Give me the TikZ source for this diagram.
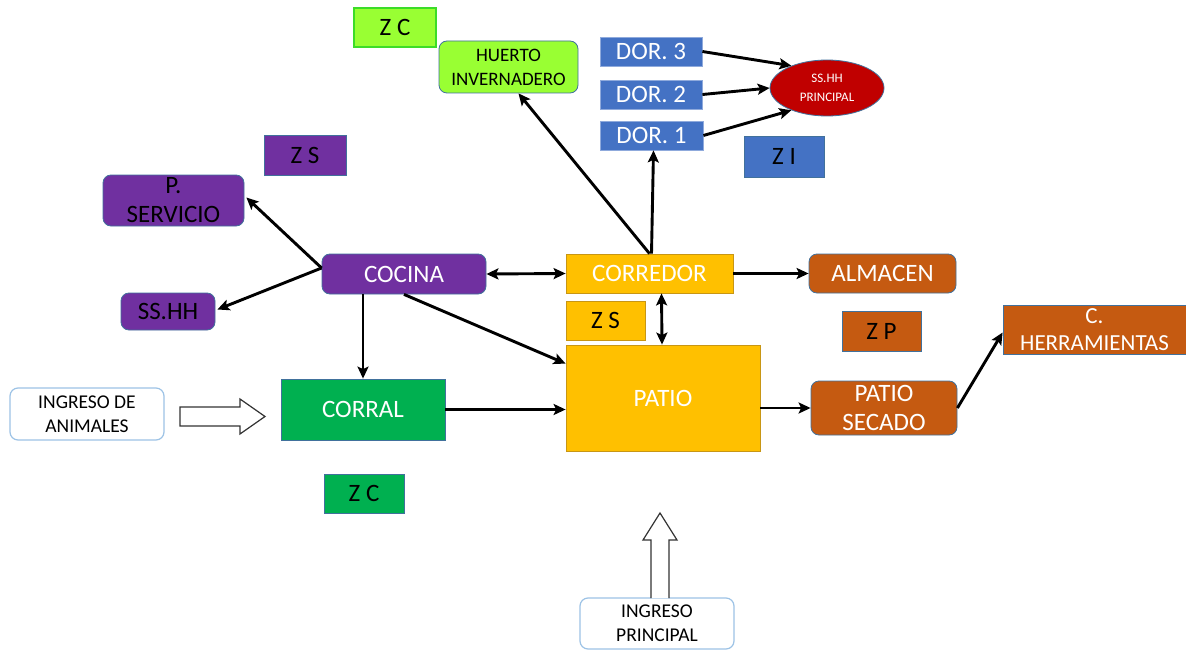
\documentclass[tikz,border=0pt]{standalone}
\usepackage{fontspec}
\setmainfont{Carlito}
\usetikzlibrary{arrows.meta,shapes.geometric,calc}
\definecolor{limeF}{RGB}{153,255,51}
\definecolor{limeB}{RGB}{60,220,40}
\definecolor{blueF}{RGB}{68,114,196}
\definecolor{blueB}{RGB}{143,170,220}
\definecolor{redF}{RGB}{192,0,0}
\definecolor{purpF}{RGB}{112,48,160}
\definecolor{yelF}{RGB}{255,192,0}
\definecolor{yelB}{RGB}{200,150,20}
\definecolor{oraF}{RGB}{197,90,17}
\definecolor{greF}{RGB}{0,176,80}
\definecolor{edgeB}{RGB}{65,113,156}
\definecolor{lightB}{RGB}{157,195,230}
\begin{document}
\begin{tikzpicture}[x=1pt,y=-1pt,
  box/.style={draw=edgeB, line width=0.8pt, inner sep=0pt, align=center},
  rbox/.style={box, rounded corners=8pt},
  fbig/.style={font=\fontsize{25}{29}\selectfont},
  fmid/.style={font=\fontsize{23}{27}\selectfont},
  fsmall/.style={font=\fontsize{19}{24}\selectfont},
  ftiny/.style={font=\fontsize{13}{19}\selectfont},
  conn/.style={line width=2.9pt, -{Stealth[length=12pt,width=11pt,inset=2.5pt]}},
  dconn/.style={line width=2.9pt, {Stealth[length=12pt,width=11pt,inset=2.5pt]}-{Stealth[length=12pt,width=11pt,inset=2.5pt]}},
  blockarrow/.style={draw=black!80, line width=1.2pt, fill=white, line join=miter}
]
\fill[white] (0,0) rectangle (1186,650);
\useasboundingbox (0,0) rectangle (1186,650);

% zone labels
\node[box, fill=limeF, draw=limeB, line width=1.6pt, fbig, minimum width=82pt, minimum height=39pt] (zc1) at (395,27.5) {Z C};
\node[box, fill=purpF, fbig, minimum width=82pt, minimum height=40pt] (zs1) at (305,155) {Z S};
\node[box, fill=blueF, fbig, minimum width=80pt, minimum height=41pt] (zi) at (784,156.5) {Z I};
\node[box, fill=yelF, draw=yelB, fbig, minimum width=79pt, minimum height=39pt] (zs2) at (605.5,320.5) {Z S};
\node[box, fill=oraF, fbig, minimum width=79pt, minimum height=40pt] (zp) at (881.5,331) {Z P};
\node[box, fill=greF, fbig, minimum width=80pt, minimum height=39pt] (zc2) at (364,493.5) {Z C};

% main nodes
\node[rbox, fill=limeF, fsmall, minimum width=139pt, minimum height=52pt] (huerto) at (508.5,67) {HUERTO\\INVERNADERO};
\node[box, fill=blueF, draw=blueB, text=white, fbig, minimum width=102pt, minimum height=29pt] (dor3) at (651,51.5) {DOR. 3};
\node[box, fill=blueF, draw=blueB, text=white, fbig, minimum width=102pt, minimum height=29pt] (dor2) at (651,94.5) {DOR. 2};
\node[box, fill=blueF, draw=blueB, text=white, fbig, minimum width=103pt, minimum height=29pt] (dor1) at (651.5,135.5) {DOR. 1};
\node[ellipse, draw=edgeB, line width=0.8pt, fill=redF, text=white, ftiny, align=center, inner sep=0pt, minimum width=114pt, minimum height=56pt] (sshhp) at (827,88) {SS.HH\\PRINCIPAL};

\node[rbox, fill=purpF, fbig, minimum width=141pt, minimum height=51pt] (pserv) at (173.5,200.5) {P.\\SERVICIO};
\node[rbox, fill=purpF, text=white, fbig, minimum width=164pt, minimum height=40pt] (cocina) at (404,274) {COCINA};
\node[rbox, fill=purpF, fbig, minimum width=94pt, minimum height=37pt] (sshh) at (168,311.5) {SS.HH};

\node[box, fill=yelF, draw=yelB, text=white, fbig, minimum width=167pt, minimum height=39pt] (corredor) at (649.5,273.5) {CORREDOR};
\node[rbox, fill=oraF, text=white, fbig, minimum width=147pt, minimum height=39pt] (almacen) at (882.5,273.5) {ALMACEN};
\node[box, fill=yelF, draw=yelB, text=white, fbig, minimum width=194pt, minimum height=106pt] (patio) at (663,398) {PATIO};
\node[box, fill=oraF, text=white, fmid, minimum width=183pt, minimum height=49pt] (herr) at (1094.5,329.5) {C.\\HERRAMIENTAS};
\node[rbox, fill=oraF, text=white, fbig, minimum width=146pt, minimum height=54pt] (secado) at (884,408) {PATIO\\SECADO};
\node[box, fill=greF, text=white, fbig, minimum width=164pt, minimum height=61pt] (corral) at (363,409.5) {CORRAL};

\node[rbox, draw=lightB, line width=1.2pt, fill=white, font=\fontsize{19.5}{24}\selectfont, minimum width=154pt, minimum height=52pt] (ingA) at (87,414) {INGRESO DE\\ANIMALES};
\node[rbox, draw=lightB, line width=1.2pt, fill=white, font=\fontsize{19.5}{24}\selectfont, minimum width=154pt, minimum height=51pt] (ingP) at (657,623.5) {INGRESO\\PRINCIPAL};

% block arrows
\draw[blockarrow] (180,407) -- (240,407) -- (240,399) -- (265,416.5) -- (240,434) -- (240,426) -- (180,426) -- cycle;
\draw[blockarrow] (651,598) -- (651,540) -- (643,540) -- (660,513) -- (677,540) -- (669,540) -- (669,598);

% connectors
\draw[conn] (corredor.north) -- ($(huerto.south)+(10,0)$);
\draw[conn] ($(corredor.north)+(2,0)$) -- ($(dor1.south)+(2,0)$);
\draw[conn] (dor3.east) -- (sshhp.148);
\draw[conn] (dor2.east) -- (sshhp.west);
\draw[conn] (dor1.east) -- (sshhp.212);
\draw[conn] ($(cocina.west)+(0,-6)$) -- ($(pserv.east)+(2,-3)$);
\draw[conn] ($(cocina.west)+(0,-6)$) -- ($(sshh.east)+(2,-2)$);
\draw[dconn] (cocina.east) -- (corredor.west);
\draw[conn] (cocina.south -| corral.north) -- (corral.north);
\draw[conn] (cocina.south) -- ($(patio.north west)+(0,19)$);
\draw[conn] (corral.east) -- (patio.west |- corral.east);
\draw[dconn] ($(corredor.south)+(12,0)$) -- ($(patio.north)+(-1,0)$);
\draw[conn] (corredor.east) -- (almacen.west);
\draw[conn] (patio.east |- secado.west) -- (secado.west);
\draw[conn] (secado.east) -- ($(herr.west)+(0,3)$);
\end{tikzpicture}
\end{document}
